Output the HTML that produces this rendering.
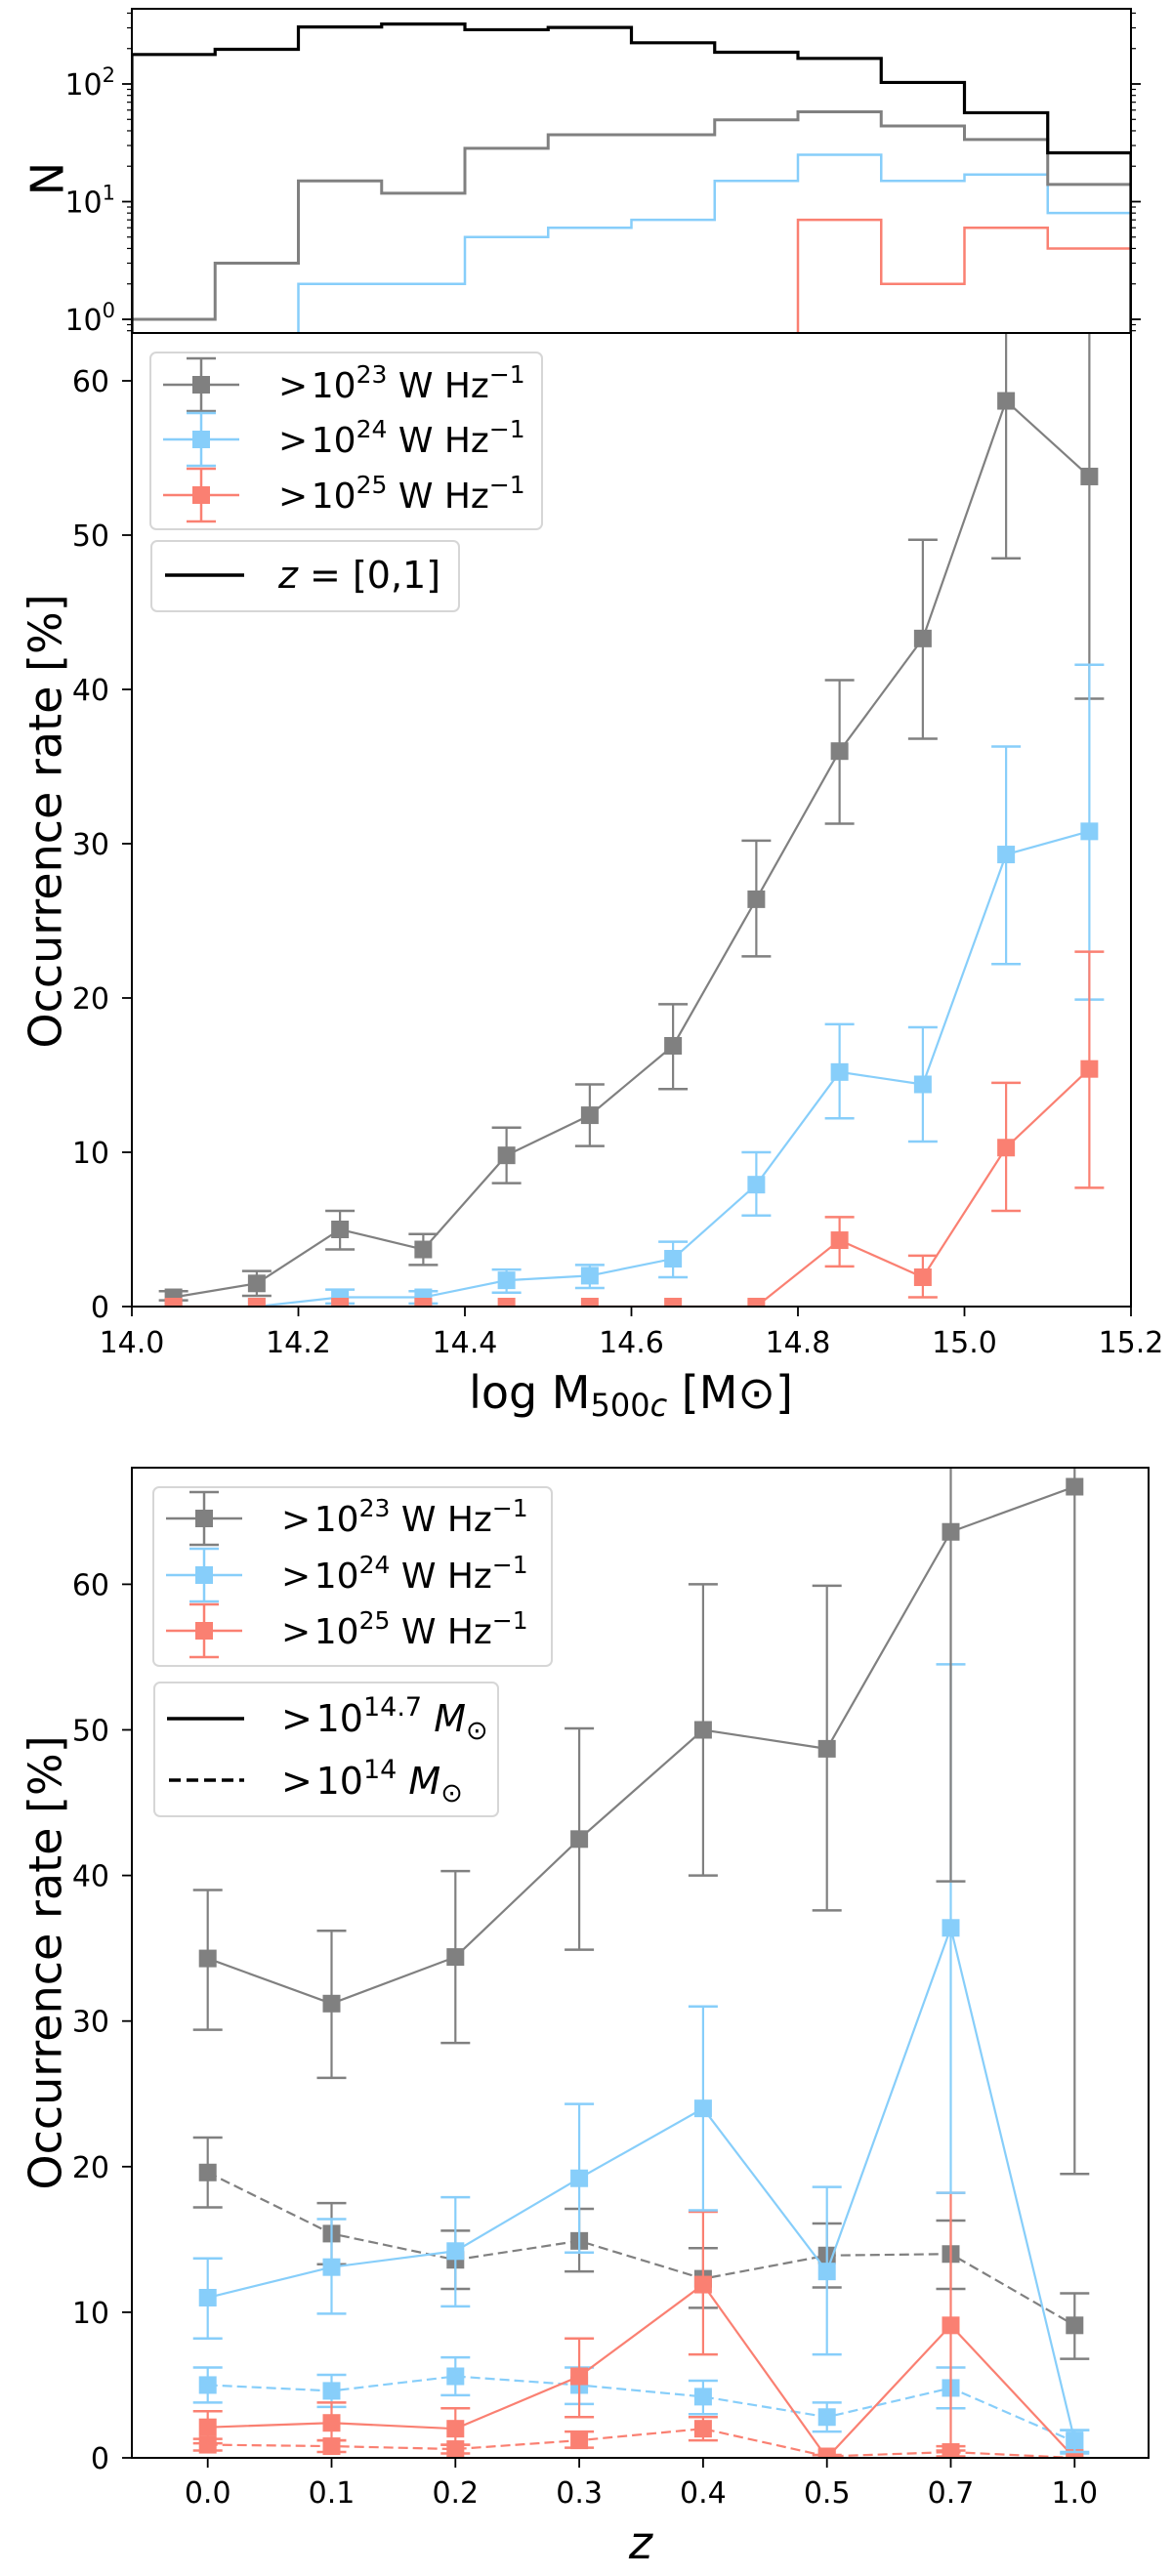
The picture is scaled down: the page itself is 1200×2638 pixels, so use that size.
<!DOCTYPE html>
<html><head><meta charset="utf-8"><style>
html,body{margin:0;padding:0;background:#fff;}
svg{display:block;font-family:"DejaVu Sans","Liberation Sans",sans-serif;}
</style></head><body>
<svg id="fig" width="1200" height="2638" viewBox="0 0 1200 2638" xmlns="http://www.w3.org/2000/svg">
<defs>
<clipPath id="clipTop"><rect x="135" y="9" width="1023" height="332"/></clipPath>
<clipPath id="clipMid"><rect x="135" y="341" width="1023" height="997"/></clipPath>
<clipPath id="clipBot"><rect x="135" y="1503" width="1041" height="1014"/></clipPath>
</defs>
<g id="topPanel"></g>
<g id="midPanel"></g>
<g id="botPanel"></g>
</svg>
<script>
// ---- histogram data (counts per mass bin, 14.0..15.2 step 0.1) ----
const histEdges = [14.0,14.1,14.2,14.3,14.4,14.5,14.6,14.7,14.8,14.9,15.0,15.1,15.2];
const histAll = [178,197,305,323,289,302,224,186,165,103,57,26];
const hist23 = [1,3,15,11.8,28.4,37,37,49.5,58,44,33.7,14];
const hist24 = [0,0,2,2,5,6,7,15,25,15,17,8];
const hist25 = [0,0,0,0,0,0,0,0,7,2,6,4];
const histTicks = [0,1,2];

// ---- occurrence vs mass ----
const massX = [14.05,14.15,14.25,14.35,14.45,14.55,14.65,14.75,14.85,14.95,15.05,15.15];
const mass23 = [0.6,1.5,5.0,3.7,9.8,12.4,16.9,26.4,36.0,43.3,58.7,53.8];
const mass23Lo = [0.4,0.7,3.7,2.7,8.0,10.4,14.1,22.7,31.3,36.8,48.5,39.4];
const mass23Hi = [1.0,2.3,6.2,4.7,11.6,14.4,19.6,30.2,40.6,49.7,70,70];
const mass24 = [null,0,0.6,0.6,1.7,2.0,3.1,7.9,15.2,14.4,29.3,30.8];
const mass24Lo = [null,0,0.2,0.2,0.9,1.2,1.9,5.9,12.2,10.7,22.2,19.9];
const mass24Hi = [null,0,1.1,1.0,2.4,2.7,4.2,10.0,18.3,18.1,36.3,41.6];
const mass25 = [0,0,0,0,0,0,0,0,4.3,1.9,10.3,15.4];
const mass25Lo = [0,0,0,0,0,0,0,0,2.6,0.6,6.2,7.7];
const mass25Hi = [0,0,0,0,0,0,0,0,5.8,3.3,14.5,23.0];
const massTicks = [14.0,14.2,14.4,14.6,14.8,15.0,15.2];
const massTickLabels = ["14.0","14.2","14.4","14.6","14.8","15.0","15.2"];
const rateTicksMid = [0,10,20,30,40,50,60];

// ---- occurrence vs redshift ----
const zLabels = ["0.0","0.1","0.2","0.3","0.4","0.5","0.7","1.0"];
const z23s = [34.3,31.2,34.4,42.5,50.0,48.7,63.6,66.7];
const z23sLo = [29.4,26.1,28.5,34.9,40.0,37.6,39.6,19.5];
const z23sHi = [39.0,36.2,40.3,50.1,60.0,59.9,75,75];
const z24s = [11.0,13.1,14.2,19.2,24.0,12.8,36.4,1.2];
const z24sLo = [8.2,9.9,10.4,14.1,17.0,7.1,18.2,0.4];
const z24sHi = [13.7,16.4,17.9,24.3,31.0,18.6,54.5,1.9];
const z25s = [2.1,2.4,2.0,5.6,11.9,0,9.1,0];
const z25sLo = [1.0,1.2,0.9,2.8,7.1,0,0.5,0];
const z25sHi = [3.2,3.8,3.4,8.2,16.9,0,18.2,0];
const z23d = [19.6,15.4,13.6,14.9,12.3,13.9,14.0,9.1];
const z23dLo = [17.2,13.3,11.6,12.8,10.3,11.7,11.6,6.8];
const z23dHi = [22.0,17.5,15.6,17.1,14.4,16.1,16.3,11.3];
const z24d = [5.0,4.6,5.6,5.0,4.2,2.8,4.8,1.1];
const z24dLo = [3.8,3.5,4.3,3.7,3.0,1.8,3.4,0.3];
const z24dHi = [6.2,5.7,6.9,6.2,5.3,3.8,6.2,1.9];
const z25d = [0.9,0.8,0.6,1.2,2.0,0.1,0.4,0];
const z25dLo = [0.5,0.4,0.3,0.7,1.2,0,0.1,0];
const z25dHi = [1.3,1.2,0.9,1.8,2.8,0.2,0.8,0];
const rateTicksBot = [0,10,20,30,40,50,60];

const GRAY="#808080", BLUE="#87CEFA", RED="#FA8072";
const NS="http://www.w3.org/2000/svg";
function mk(tag, attrs, parent){ const e=document.createElementNS(NS,tag); for(const k in attrs) e.setAttribute(k,attrs[k]); if(parent) parent.appendChild(e); return e; }

const xMass = v => 135 + (v-14.0)/1.2*1023;
const yTop = n => 327 - Math.log10(n)*120.5;
const yMid = v => 1338 - v*15.8;
const xZ = i => 212.7 + i*126.8;
const yBot = v => 2517 - v*14.91;

function addLabel(parent, x, y, txt, size, anchor, name, extra){
  const t = mk('text',{x:x,y:y,'font-size':size,'text-anchor':anchor||'middle',fill:'#000'},parent);
  
  
  if(extra) for(const k in extra) t.setAttribute(k,extra[k]);
  t.textContent = txt; return t;
}

// ================= TOP PANEL =================
const topG = document.getElementById('topPanel');
const topData = mk('g',{'clip-path':'url(#clipTop)'},topG);
function drawStep(vals, color, w, name){
  let d = 'M'+xMass(histEdges[0])+',360';
  for(let i=0;i<vals.length;i++){
    const y = vals[i]>0 ? yTop(vals[i]) : 360;
    d += ' V'+y+' H'+xMass(histEdges[i+1]);
  }
  d += ' V360';
  const p = mk('path',{d:d,fill:'none',stroke:color,'stroke-width':w},topData);
  
  
}
drawStep(hist25, RED, 2.5, 'hist-gt25');
drawStep(hist24, BLUE, 2.5, 'hist-gt24');
drawStep(hist23, GRAY, 3, 'hist-gt23');
drawStep(histAll, '#000', 3.2, 'hist-all');
for(let dec=-1; dec<=2; dec++){
  for(let m=1;m<10;m++){
    const v = m*Math.pow(10,dec); const y=yTop(v);
    if(y<9||y>341) continue;
    const L = m===1?10:5;
    mk('line',{x1:135-L,x2:135,y1:y,y2:y,stroke:'#000','stroke-width':m===1?1.8:1.2},topG);
    mk('line',{x1:1158,x2:1158+L,y1:y,y2:y,stroke:'#000','stroke-width':m===1?1.8:1.2},topG);
  }
}
histTicks.forEach(e=>{
  const t = mk('text',{x:118,y:yTop(Math.pow(10,e))+11,'font-size':30,'text-anchor':'end'},topG);
  
  
  t.appendChild(document.createTextNode('10'));
  const s = mk('tspan',{dy:-13,'font-size':21},t); s.textContent=String(e);
});
mk('rect',{x:135,y:9,width:1023,height:332,fill:'none',stroke:'#000','stroke-width':2},topG);
addLabel(topG, 52, 183, 'N', 46, 'middle', 'y-axis-title', {transform:'rotate(-90 52 183)', 'dominant-baseline':'middle'});

function series(g, xs, ys, lo, hi, xf, yf, color, dashed, name, cap){
  const pts=[];
  xs.forEach((x,i)=>{ if(ys[i]!==null) pts.push([xf(x),yf(ys[i])]); });
  const line = mk('polyline',{points:pts.map(p=>p.join(',')).join(' '),fill:'none',stroke:color,'stroke-width':2.2},g);
  if(dashed) line.setAttribute('stroke-dasharray','10,5');
  
  
  xs.forEach((x,i)=>{
    if(ys[i]===null) return;
    const cx=xf(x), y1=yf(lo[i]), y2=yf(hi[i]);
    const eg = mk('g',{},g);
    
    
    if(Math.abs(y1-y2)>0.5){
      mk('line',{x1:cx,x2:cx,y1:y1,y2:y2,stroke:color,'stroke-width':2.2},eg);
      mk('line',{x1:cx-cap,x2:cx+cap,y1:y1,y2:y1,stroke:color,'stroke-width':2.5},eg);
      mk('line',{x1:cx-cap,x2:cx+cap,y1:y2,y2:y2,stroke:color,'stroke-width':2.5},eg);
    }
    mk('rect',{x:cx-9,y:yf(ys[i])-9,width:18,height:18,fill:color},eg);
  });
}
function legendErr(g, x, y, color, exp, name){
  const e = mk('g',{},g);
  
  
  mk('line',{x1:x,x2:x+78,y1:y,y2:y,stroke:color,'stroke-width':2.5},e);
  mk('line',{x1:x+39,x2:x+39,y1:y-27,y2:y+27,stroke:color,'stroke-width':2.5},e);
  mk('line',{x1:x+24,x2:x+54,y1:y-27,y2:y-27,stroke:color,'stroke-width':2.5},e);
  mk('line',{x1:x+24,x2:x+54,y1:y+27,y2:y+27,stroke:color,'stroke-width':2.5},e);
  mk('rect',{x:x+30,y:y-9,width:18,height:18,fill:color},e);
  const t = mk('text',{x:x+118,y:y+13,'font-size':36},e);
  t.appendChild(document.createTextNode('>\u200a10'));
  const s1 = mk('tspan',{dy:-15,'font-size':25},t); s1.textContent=exp;
  const s2 = mk('tspan',{dy:15},t); s2.textContent=' W Hz';
  const s3 = mk('tspan',{dy:-15,'font-size':25},t); s3.textContent='\u22121';
}

// ================= MIDDLE PANEL =================
const midG = document.getElementById('midPanel');
const midData = mk('g',{'clip-path':'url(#clipMid)'},midG);
series(midData, massX, mass23, mass23Lo, mass23Hi, xMass, yMid, GRAY, false, 'mass-gt23', 15);
series(midData, massX, mass24, mass24Lo, mass24Hi, xMass, yMid, BLUE, false, 'mass-gt24', 15);
series(midData, massX, mass25, mass25Lo, mass25Hi, xMass, yMid, RED, false, 'mass-gt25', 15);
mk('rect',{x:135,y:341,width:1023,height:997,fill:'none',stroke:'#000','stroke-width':2},midG);
rateTicksMid.forEach(v=>{
  mk('line',{x1:125,x2:135,y1:yMid(v),y2:yMid(v),stroke:'#000','stroke-width':1.8},midG);
  addLabel(midG, 112, yMid(v)+11, String(v), 30, 'end', 'y-tick-label');
});
massTicks.forEach((v,i)=>{
  mk('line',{x1:xMass(v),x2:xMass(v),y1:1338,y2:1348,stroke:'#000','stroke-width':1.8},midG);
  addLabel(midG, xMass(v), 1385, massTickLabels[i], 30, 'middle', 'x-tick-label');
});
(function(){
  const t = mk('text',{x:646,y:1442,'font-size':46,'text-anchor':'middle'},midG);
  
  
  t.appendChild(document.createTextNode('log M'));
  const s=mk('tspan',{dy:8,'font-size':32},t); s.textContent='500';
  const s2=mk('tspan',{'font-size':32,'font-style':'italic'},t); s2.textContent='c';
  const s3=mk('tspan',{dy:-8},t); s3.textContent=' [M\u2299]';
})();
addLabel(midG, 50, 841, 'Occurrence rate [%]', 46, 'middle', 'y-axis-title', {transform:'rotate(-90 50 841)','dominant-baseline':'middle'});
const ml = mk('g',{},midG);


mk('rect',{x:154,y:361,width:401,height:181,rx:6,fill:'#fff','fill-opacity':0.85,stroke:'#d6d6d6','stroke-width':2},ml);
legendErr(ml, 167, 394, GRAY, '23', 'legend-gt23');
legendErr(ml, 167, 450, BLUE, '24', 'legend-gt24');
legendErr(ml, 167, 507, RED, '25', 'legend-gt25');
const ml2 = mk('g',{},midG);


mk('rect',{x:155,y:554,width:315,height:72,rx:6,fill:'#fff','fill-opacity':0.85,stroke:'#d6d6d6','stroke-width':2},ml2);
mk('line',{x1:169,x2:250,y1:589,y2:589,stroke:'#000','stroke-width':3.5},ml2);
(function(){
  const t = mk('text',{x:285,y:602,'font-size':38},ml2);
  
  
  const s=mk('tspan',{'font-style':'italic'},t); s.textContent='z';
  t.appendChild(document.createTextNode(' = [0,1]'));
})();

// ================= BOTTOM PANEL =================
const botG = document.getElementById('botPanel');
const botData = mk('g',{'clip-path':'url(#clipBot)'},botG);
const idx = zLabels.map((_,i)=>i);
series(botData, idx, z25d, z25dLo, z25dHi, xZ, yBot, RED, true, 'z-gt25-dashed', 15);
series(botData, idx, z24d, z24dLo, z24dHi, xZ, yBot, BLUE, true, 'z-gt24-dashed', 15);
series(botData, idx, z23d, z23dLo, z23dHi, xZ, yBot, GRAY, true, 'z-gt23-dashed', 15);
series(botData, idx, z25s, z25sLo, z25sHi, xZ, yBot, RED, false, 'z-gt25-solid', 15);
series(botData, idx, z24s, z24sLo, z24sHi, xZ, yBot, BLUE, false, 'z-gt24-solid', 15);
series(botData, idx, z23s, z23sLo, z23sHi, xZ, yBot, GRAY, false, 'z-gt23-solid', 15);
mk('rect',{x:135,y:1503,width:1041,height:1014,fill:'none',stroke:'#000','stroke-width':2},botG);
rateTicksBot.forEach(v=>{
  mk('line',{x1:125,x2:135,y1:yBot(v),y2:yBot(v),stroke:'#000','stroke-width':1.8},botG);
  addLabel(botG, 112, yBot(v)+11, String(v), 30, 'end', 'y-tick-label');
});
zLabels.forEach((s,i)=>{
  mk('line',{x1:xZ(i),x2:xZ(i),y1:2517,y2:2527,stroke:'#000','stroke-width':1.8},botG);
  addLabel(botG, xZ(i), 2563, s, 30, 'middle', 'x-tick-label');
});
addLabel(botG, 656, 2620, 'z', 46, 'middle', 'x-axis-title', {'font-style':'italic'});
addLabel(botG, 50, 2010, 'Occurrence rate [%]', 46, 'middle', 'y-axis-title', {transform:'rotate(-90 50 2010)','dominant-baseline':'middle'});
const bl = mk('g',{},botG);


mk('rect',{x:157,y:1523,width:408,height:183,rx:6,fill:'#fff','fill-opacity':0.85,stroke:'#d6d6d6','stroke-width':2},bl);
legendErr(bl, 170, 1555, GRAY, '23', 'legend-gt23');
legendErr(bl, 170, 1613, BLUE, '24', 'legend-gt24');
legendErr(bl, 170, 1670, RED, '25', 'legend-gt25');
const bl2 = mk('g',{},botG);


mk('rect',{x:158,y:1723,width:352,height:137,rx:6,fill:'#fff','fill-opacity':0.85,stroke:'#d6d6d6','stroke-width':2},bl2);
mk('line',{x1:171,x2:250,y1:1760,y2:1760,stroke:'#000','stroke-width':3.5},bl2);
mk('line',{x1:173,x2:250,y1:1823,y2:1823,stroke:'#000','stroke-width':3.5,'stroke-dasharray':'12,6'},bl2);
function massLeg(y, exp, name){
  const t = mk('text',{x:288,y:y,'font-size':38},bl2);
  
  
  t.appendChild(document.createTextNode('>\u200a10'));
  const s=mk('tspan',{dy:-16,'font-size':27},t); s.textContent=exp;
  const s2=mk('tspan',{dy:16,'font-style':'italic'},t); s2.textContent=' M';
  const s3=mk('tspan',{dy:8,'font-size':27},t); s3.textContent='\u2299';
}
massLeg(1773, '14.7', 'legend-mass-147');
massLeg(1837, '14', 'legend-mass-14');
</script>
</body></html>
